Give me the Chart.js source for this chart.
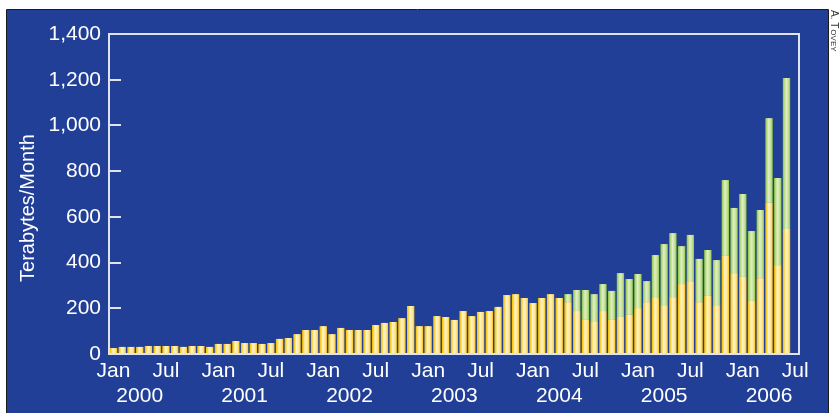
<!DOCTYPE html>
<html>
<head>
<meta charset="utf-8">
<script src="https://cdn.jsdelivr.net/npm/chart.js@4/dist/chart.umd.min.js"></script>
<style>
  html, body { margin: 0; padding: 0; background: #fff; }
  #wrap { width: 840px; height: 413px; }
</style>
</head>
<body>
<div id="wrap"><canvas id="chart" width="840" height="413"></canvas></div>
<script>
// Terabytes per month, one bar per month from Jan 2000 (index 0) to Jun 2006
const yearLabels = ['2000', '2001', '2002', '2003', '2004', '2005', '2006'];
const halfYearLabels = ['Jan', 'Jul'];
const yTicks = [0, 200, 400, 600, 800, 1000, 1200, 1400];

// lower (yellow) part of every bar
const yellowTB = [
  26, 31, 31, 31, 35, 35, 35, 35, 31, 35, 35, 31,          // 2000
  44, 44, 57, 48, 48, 44, 48, 66, 70, 87, 105, 105,        // 2001
  122, 87, 114, 105, 105, 105, 127, 136, 140, 157, 210, 122, // 2002
  122, 166, 162, 149, 188, 166, 184, 188, 206, 258, 262, 245, // 2003
  223, 245, 262, 245, 227, 188, 149, 140, 188, 149, 162, 171, // 2004
  201, 227, 245, 214, 249, 306, 315, 227, 254, 214, 429, 354, // 2005
  337, 232, 332, 661, 389, 547                               // 2006
];

// upper (green) part, starts in May 2004
const greenStart = 52;
const greenTB = [
  35, 92, 131, 122, 118, 127, 192, 157,
  149, 92, 188, 267, 280, 166, 206, 189, 201, 197, 332, 285,
  363, 306, 298, 371, 381, 660
];

const FONT = "'Liberation Sans', Arial, sans-serif";
const BLUE = '#213f97';
const FRAME = '#dfe3ee';

// cylinder-like shading across each bar
function barShade(stops) {
  return ctx => {
    const chart = ctx.chart;
    const sc = chart.scales.x;
    if (!sc || ctx.type !== 'data' || !chart.chartArea) return stops[0][1];
    const xv = ctx.raw && ctx.raw.x !== undefined ? ctx.raw.x : ctx.dataIndex;
    const cx = sc.getPixelForValue(xv);
    const g = chart.ctx.createLinearGradient(cx - 3.8, 0, cx + 3.8, 0);
    stops.forEach(s => g.addColorStop(s[0], s[1]));
    return g;
  };
}

const yellowStops = [[0, '#f4bd00'], [0.18, '#f9cf2e'], [0.42, '#fff3c8'], [0.72, '#ffe69a'], [0.9, '#fbd03c'], [1, '#f2bb00']];
const greenStops = [[0, '#86c23a'], [0.2, '#b3d87c'], [0.45, '#e0efc6'], [0.75, '#c2e093'], [1, '#88c43c']];

const panelPlugin = {
  id: 'panel',
  beforeDraw(chart) {
    const c = chart.ctx;
    c.save();
    c.fillStyle = '#ffffff';
    c.fillRect(0, 0, chart.width, chart.height);
    c.fillStyle = BLUE;
    c.fillRect(7, 10, 821, 403);
    c.strokeStyle = '#1b1b1b';
    c.lineWidth = 1;
    c.beginPath();
    c.moveTo(6.5, 413); c.lineTo(6.5, 9.5); c.lineTo(828.5, 9.5); c.lineTo(828.5, 413);
    c.stroke();
    // credit, rotated
    c.translate(839, 10);
    c.rotate(Math.PI / 2);
    c.fillStyle = '#333';
    c.textBaseline = 'top';
    c.font = '10px ' + FONT;
    c.fillText('A. T', 0, 0);
    const w = c.measureText('A. T').width;
    c.font = '8px ' + FONT;
    c.fillText('OVEY', w + 1, 1.6);
    c.restore();

    c.save();
    c.translate(28, 208);
    c.rotate(-Math.PI / 2);
    c.fillStyle = '#ffffff';
    c.font = '20px ' + FONT;
    c.textAlign = 'center';
    c.textBaseline = 'middle';
    c.fillText('Terabytes/Month', 0, 0);
    c.restore();
  },
  afterDatasetsDraw(chart) {
    const a = chart.chartArea;
    const c = chart.ctx;
    const ys = chart.scales.y;
    c.save();
    c.strokeStyle = FRAME;
    c.lineWidth = 2;
    ys.ticks.forEach(t => {
      const y = Math.round(ys.getPixelForValue(t.value));
      c.beginPath();
      c.moveTo(a.left, y);
      c.lineTo(a.left + 12, y);
      c.stroke();
    });
    c.strokeRect(a.left, a.top, a.right - a.left, a.bottom - a.top);
    c.restore();
  }
};

const xMin = -0.515, xMax = 78.43;

new Chart(document.getElementById('chart'), {
  type: 'bar',
  data: {
    datasets: [
      {
        label: 'yellow',
        data: yellowTB.map((v, i) => ({ x: i, y: v })),
        backgroundColor: barShade(yellowStops),
        borderWidth: 0,
        barPercentage: 0.84,
        categoryPercentage: 1
      },
      {
        label: 'green',
        data: greenTB.map((v, i) => ({ x: greenStart + i, y: v })),
        backgroundColor: barShade(greenStops),
        borderWidth: 0,
        barPercentage: 0.84,
        categoryPercentage: 1
      }
    ]
  },
  options: {
    responsive: false,
    animation: false,
    devicePixelRatio: 1,
    layout: { padding: { left: 0, right: 41, top: 34, bottom: 0 } },
    plugins: { legend: { display: false }, tooltip: { enabled: false } },
    scales: {
      x: {
        type: 'linear',
        stacked: true,
        offset: false,
        min: xMin,
        max: xMax,
        weight: 0,
        afterBuildTicks: ax => {
          const t = [];
          for (let m = 0; m <= 78; m += 6) t.push({ value: m });
          ax.ticks = t;
        },
        afterFit: ax => { ax.height = 30; },
        ticks: {
          autoSkip: false,
          maxRotation: 0,
          padding: 5,
          color: '#ffffff',
          font: { family: FONT, size: 21 },
          callback: (v, i) => halfYearLabels[i % 2]
        },
        grid: { display: false, drawTicks: false, offset: false },
        border: { display: false }
      },
      years: {
        type: 'linear',
        position: 'bottom',
        offset: false,
        min: xMin,
        max: xMax,
        weight: 1,
        afterBuildTicks: ax => {
          ax.ticks = yearLabels.map((y, i) => ({ value: 3 + 12 * i }));
        },
        afterFit: ax => { ax.height = 29; },
        ticks: {
          autoSkip: false,
          maxRotation: 0,
          padding: 0,
          color: '#ffffff',
          font: { family: FONT, size: 21 },
          callback: (v, i) => yearLabels[i]
        },
        grid: { display: false, drawTicks: false },
        border: { display: false }
      },
      y: {
        stacked: true,
        min: 0,
        max: 1400,
        afterBuildTicks: ax => { ax.ticks = yTicks.map(v => ({ value: v })); },
        afterFit: ax => { ax.width = 109; },
        ticks: {
          padding: 8,
          color: '#ffffff',
          font: { family: FONT, size: 21 },
          callback: v => v.toLocaleString('en-US')
        },
        grid: { display: false, drawTicks: false },
        border: { display: false }
      }
    }
  },
  plugins: [panelPlugin]
});
</script>
</body>
</html>
